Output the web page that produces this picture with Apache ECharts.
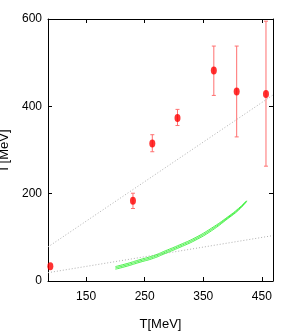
<!DOCTYPE html>
<html><head><meta charset="utf-8">
<script src="https://cdn.jsdelivr.net/npm/echarts@6/dist/echarts.min.js"></script>
<style>html,body{margin:0;padding:0;background:#fff}#c{width:291px;height:332px}</style>
</head><body><div id="c"></div>
<script>
// data
var xTicks = [150, 250, 350, 450];
var yTicks = [0, 200, 400, 600];
var ptT    = [89, 230, 263, 306, 368, 407, 457];
var ptG    = [34, 184, 315, 373, 482, 434, 428];
var ptLo   = [34, 166, 296, 356, 425, 330, 263];
var ptHi   = [34, 201, 335, 393, 538, 538, 595];
var lineAT = [85, 469];
var lineAG = [78, 426];
var lineBT = [85, 469];
var lineBG = [19, 104];
var greenT   = [200, 220, 242, 265, 285, 310, 336, 364, 392, 410, 424];
var greenUp  = [33, 40, 49, 58, 69, 83, 99, 121, 147, 166, 184];
var greenMid = [30, 37, 46, 55, 66, 80, 96, 118, 145, 164, 183];
var greenLo  = [27, 34, 43, 52, 63, 77, 93, 115, 143, 162, 182];

var FONT = '"Liberation Sans Narrow", "Liberation Sans", Arial, sans-serif';
function zip(a, b) { return a.map(function (v, i) { return [v, b[i]]; }); }

var chart = echarts.init(document.getElementById('c'), null, {renderer: 'canvas'});
var axisCommon = {
  type: 'value', scale: false,
  axisLine: {show: true, onZero: false, lineStyle: {color: '#000', width: 1}},
  splitLine: {show: false}
};
var option = {
  animation: false,
  backgroundColor: '#fff',
  grid: {left: 48, top: 19, right: 18, bottom: 51, containLabel: false, outerBoundsMode: 'none'},
  xAxis: [
    Object.assign({}, axisCommon, {
      min: 85, max: 469, position: 'bottom',
      name: 'T[MeV]', nameLocation: 'middle', nameGap: 37,
      nameTextStyle: {fontFamily: FONT, fontSize: 13, color: '#000'},
      axisTick: {show: true, inside: true, length: 4, customValues: xTicks, lineStyle: {color: '#000'}},
      axisLabel: {show: true, customValues: xTicks, margin: 10, fontFamily: FONT, fontSize: 12, color: '#000'}
    }),
    Object.assign({}, axisCommon, {
      min: 85, max: 469, position: 'top',
      axisTick: {show: true, inside: true, length: 4, customValues: xTicks, lineStyle: {color: '#000'}},
      axisLabel: {show: false}
    })
  ],
  yAxis: [
    Object.assign({}, axisCommon, {
      min: 0, max: 600, interval: 200, position: 'left',
      name: 'Γ[MeV]', nameLocation: 'middle', nameGap: 33, nameRotate: 90,
      nameTextStyle: {fontFamily: FONT, fontSize: 13, color: '#000'},
      axisTick: {show: true, inside: true, length: 4, lineStyle: {color: '#000'}},
      axisLabel: {show: true, margin: 6, fontFamily: FONT, fontSize: 12, color: '#000'}
    }),
    Object.assign({}, axisCommon, {
      min: 0, max: 600, interval: 200, position: 'right',
      axisTick: {show: true, inside: true, length: 4, lineStyle: {color: '#000'}},
      axisLabel: {show: false}
    })
  ],
  series: [
    {type: 'line', data: zip(lineAT, lineAG), symbol: 'none', silent: true,
     lineStyle: {color: '#b0b0b0', width: 1, type: [1, 2]}},
    {type: 'line', data: zip(lineBT, lineBG), symbol: 'none', silent: true,
     lineStyle: {color: '#b0b0b0', width: 1, type: [1, 2]}},
    {type: 'line', data: zip(greenT, greenUp), symbol: 'none', smooth: true,
     lineStyle: {color: '#22ee22', width: 0.8}},
    {type: 'line', data: zip(greenT, greenMid), symbol: 'none', smooth: true,
     lineStyle: {color: '#22ee22', width: 0.8}},
    {type: 'line', data: zip(greenT, greenLo), symbol: 'none', smooth: true,
     lineStyle: {color: '#22ee22', width: 0.8}},
    {type: 'custom',
     data: ptT.map(function (t, i) { return [t, ptLo[i], ptHi[i]]; }),
     renderItem: function (params, api) {
       var lo = api.coord([api.value(0), api.value(1)]);
       var hi = api.coord([api.value(0), api.value(2)]);
       if (Math.abs(lo[1] - hi[1]) < 1) return null;
       var w = 2;
       var st = {stroke: '#ff7070', lineWidth: 1};
       return {type: 'group', children: [
         {type: 'line', shape: {x1: lo[0], y1: lo[1], x2: hi[0], y2: hi[1]}, style: st},
         {type: 'line', shape: {x1: lo[0] - w, y1: lo[1], x2: lo[0] + w, y2: lo[1]}, style: st},
         {type: 'line', shape: {x1: hi[0] - w, y1: hi[1], x2: hi[0] + w, y2: hi[1]}, style: st}
       ]};
     },
     encode: {x: 0, y: [1, 2]}, z: 3},
    {type: 'scatter', data: zip(ptT, ptG), symbol: 'circle', symbolSize: [6, 8],
     itemStyle: {color: '#ff0000'}, z: 4}
  ]
};
chart.setOption(option);
</script></body></html>
